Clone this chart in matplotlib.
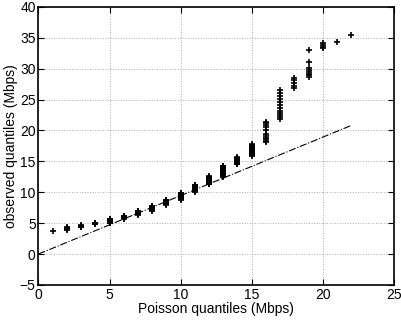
import numpy as np
import matplotlib
matplotlib.use("Agg")
import matplotlib.pyplot as plt

plt.rcParams['font.family'] = ['Liberation Sans', 'DejaVu Sans']

# Poisson quantiles (Mbps) and observed quantiles
x_vals = [1, 2, 3, 4, 5, 6, 7, 8, 9, 10, 11, 12, 13, 14, 15, 16, 17, 18, 19, 20, 21, 22]
obs = [
    [3.8],
    [3.9, 4.0, 4.1, 4.2, 4.3],
    [4.3, 4.4, 4.5, 4.6, 4.7],
    [4.8, 4.9, 5.0, 5.1],
    [5.0, 5.1, 5.2, 5.3, 5.4, 5.5, 5.6, 5.7],
    [5.7, 5.8, 5.9, 6.0, 6.1, 6.2],
    [6.3, 6.4, 6.5, 6.6, 6.7, 6.8, 6.9, 7.0],
    [7.0, 7.1, 7.2, 7.3, 7.4, 7.5, 7.6, 7.7, 7.8],
    [8.0, 8.1, 8.2, 8.3, 8.4, 8.5, 8.6, 8.7, 8.8],
    [8.8, 8.9, 9.0, 9.1, 9.2, 9.3, 9.4, 9.5, 9.6, 9.7, 9.8, 9.9],
    [10.1, 10.2, 10.3, 10.4, 10.5, 10.6, 10.7, 10.8, 10.9, 11.0, 11.1, 11.2],
    [11.3, 11.4, 11.5, 11.6, 11.7, 11.8, 11.9, 12.0, 12.1, 12.2, 12.3, 12.4, 12.5, 12.6],
    [12.5, 12.6, 12.7, 12.8, 12.9, 13.0, 13.1, 13.2, 13.3, 13.4, 13.5, 13.6, 13.7,
     13.8, 13.9, 14.0, 14.1, 14.2, 14.3],
    [14.5, 14.6, 14.7, 14.8, 14.9, 15.0, 15.1, 15.2, 15.3, 15.4, 15.5, 15.6, 15.7],
    [15.9, 16.0, 16.1, 16.2, 16.3, 16.4, 16.5, 16.6, 16.7, 16.8, 16.9, 17.0, 17.1,
     17.2, 17.3, 17.4, 17.5, 17.6, 17.8],
    [18.1, 18.3, 18.6, 18.85, 19.1, 19.5, 20.0, 20.5, 20.9, 21.2, 21.4],
    [21.9, 22.2, 22.5, 22.8, 23.2, 23.6, 24.1, 24.6, 25.1, 25.6, 26.0, 26.55],
    [26.9, 27.2, 27.6, 28.1, 28.5],
    [28.7, 28.9, 29.2, 29.5, 29.8, 30.1, 31.1, 33.0],
    [33.3, 33.5, 33.8, 34.1],
    [34.3],
    [35.4],
]
line_x = [0, 22]
line_y = [0, 20.8]

fig = plt.figure(figsize=(4.01, 3.26), dpi=100)
ax = fig.add_axes([0.096, 0.126, 0.886, 0.853])

px = [x for x, ys in zip(x_vals, obs) for _ in ys]
py = [y for ys in obs for y in ys]
ax.plot(px, py, '+', color='black', markersize=5, markeredgewidth=1.2)
ax.plot(line_x, line_y, '-.', color='black', linewidth=0.8)

ax.set_xlim(0, 25)
ax.set_ylim(-5, 40)
ax.set_xticks(np.arange(0, 26, 5))
ax.set_yticks(np.arange(-5, 41, 5))
ax.grid(True, linestyle=':', color='#aaaaaa', linewidth=0.7)
ax.tick_params(direction='in', top=True, right=True, labelsize=10, length=4, pad=2)
for s in ax.spines.values():
    s.set_linewidth(1.2)

ax.set_xlabel('Poisson quantiles (Mbps)', fontsize=10, labelpad=0)
ax.set_ylabel('observed quantiles (Mbps)', fontsize=10, labelpad=1)

fig.savefig('out.png', dpi=100)
